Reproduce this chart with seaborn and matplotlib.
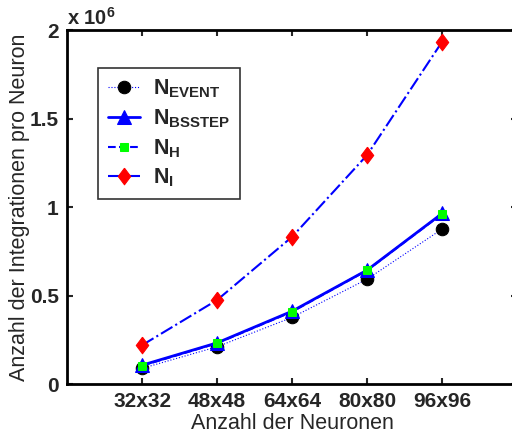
import numpy as np
import matplotlib
matplotlib.use("Agg")
import matplotlib.pyplot as plt
import seaborn as sns
from matplotlib.ticker import FuncFormatter

# data
categories = ["32x32", "48x48", "64x64", "80x80", "96x96"]
n_event = [89000, 211000, 377000, 593000, 876000]
n_bsstep = [107000, 233000, 412000, 644000, 964000]
n_h = [104000, 231000, 409000, 643000, 962000]
n_i = [220000, 475000, 832000, 1294000, 1934000]
y_ticks = [0, 0.5e6, 1e6, 1.5e6, 2e6]

sns.set_style("ticks")
plt.rcParams["font.family"] = ["Liberation Sans", "DejaVu Sans"]
plt.rcParams["mathtext.fontset"] = "custom"
plt.rcParams["mathtext.rm"] = "Liberation Sans:bold"
plt.rcParams["mathtext.bf"] = "Liberation Sans:bold"
plt.rcParams["mathtext.it"] = "Liberation Sans:bold"

x = np.arange(1, len(categories) + 1)
tall_diamond = [(0, 1), (0.75, 0), (0, -1), (-0.75, 0), (0, 1)]

fig = plt.figure(figsize=(5.12, 4.36), dpi=100)
ax = fig.add_axes([0.131, 0.119, 0.879, 0.812])

sns.lineplot(x=x, y=n_event, ax=ax, color="blue", lw=0.8, ls=":",
             marker="o", ms=9, mfc="black", mec="black",
             label=r"$\mathrm{N}_{\mathrm{EVENT}}$")
sns.lineplot(x=x, y=n_bsstep, ax=ax, color="blue", lw=2, ls="-",
             marker="^", ms=10, mfc="blue", mec="blue",
             label=r"$\mathrm{N}_{\mathrm{BSSTEP}}$")
sns.lineplot(x=x, y=n_h, ax=ax, color="blue", lw=1.5, ls="--",
             marker="s", ms=6, mfc="#00ff00", mec="#00ff00",
             label=r"$\mathrm{N}_{\mathrm{H}}$")
sns.lineplot(x=x, y=n_i, ax=ax, color="blue", lw=1.5, ls="-.",
             marker=tall_diamond, ms=12, mfc="red", mec="red",
             label=r"$\mathrm{N}_{\mathrm{I}}$")

ax.set_xlim(0, 6)
ax.set_ylim(0, 2e6)
ax.set_xticks(x)
ax.set_xticklabels(categories)
ax.set_yticks(y_ticks)
ax.yaxis.set_major_formatter(FuncFormatter(lambda v, p: f"{v / 1e6:g}"))

ax.tick_params(direction="in", top=True, right=True, width=1.5, length=4,
               pad=6, labelsize=15)
for s in ax.spines.values():
    s.set_linewidth(2)
    s.set_color("black")

ax.set_xlabel("Anzahl der Neuronen", fontsize=15.5, labelpad=1)
ax.set_ylabel("Anzahl der Integrationen pro Neuron", fontsize=15.5, labelpad=0)
ax.text(0, 1.005, r"x 10$^{6}$", transform=ax.transAxes,
        ha="left", va="bottom", fontsize=14.5, fontweight="bold")

leg = ax.legend(loc="upper left", bbox_to_anchor=(0.069, 0.893),
                borderaxespad=0, fontsize=15.5, frameon=True, fancybox=False,
                handlelength=1.5, handletextpad=0.6, labelspacing=0.33,
                borderpad=0.45)
leg.get_frame().set_edgecolor("black")
leg.get_frame().set_linewidth(1.2)

fig.canvas.draw()
for lbl in ax.get_xticklabels() + ax.get_yticklabels():
    lbl.set_fontweight("bold")

fig.savefig("out.png", dpi=100)
